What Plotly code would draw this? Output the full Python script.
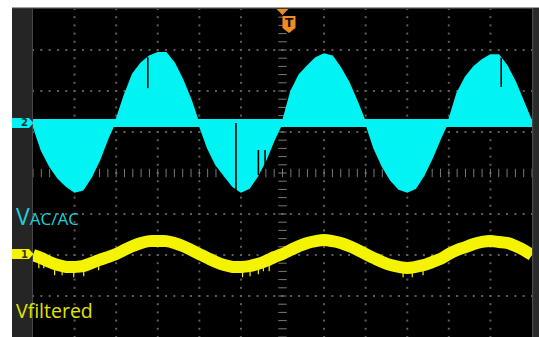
import plotly.graph_objects as go

# ---- timebase / vertical settings -------------------------------------
MS_PER_DIV = 5.0          # horizontal: 12 divisions, -30 .. 30 ms
CH2_V_PER_DIV = 100.0     # V AC/AC channel
CH2_POS_DIV = 1.22        # ground marker position (divisions above centre)
CH1_V_PER_DIV = 20.0      # filtered channel
CH1_POS_DIV = -1.976

# sample times (ms)
t_ms = [float(k) for k in range(-30, 31)]

# channel 2 (V AC/AC) chopped-sine envelope, volts
v_acac = [-5, -66, -105, -134, -154, -168, -163, -132, -90, -37,
          7, 68, 120, 146, 163, 171, 171, 146, 105, 56,
          -5, -61, -102, -129, -154, -168, -159, -129, -90, -41,
          2, 76, 117, 139, 159, 168, 163, 134, 98, 51,
          0, -61, -105, -139, -161, -168, -159, -127, -85, -37,
          7, 73, 112, 137, 154, 166, 166, 139, 100, 51, 2]

# channel 1 (V filtered), volts
v_filt = [-0.5, -2.0, -3.9, -5.4, -6.3, -6.3, -5.9, -4.4, -2.9, -1.5,
          0.0, 2.0, 3.9, 5.4, 6.3, 6.3, 6.3, 5.4, 3.9, 2.0,
          0.0, -2.0, -3.9, -5.4, -6.3, -6.3, -5.9, -4.9, -3.4, -1.5,
          0.0, 2.0, 3.9, 5.4, 6.3, 6.8, 6.3, 5.4, 3.9, 2.0,
          0.0, -2.0, -3.9, -5.4, -6.3, -6.8, -6.3, -5.4, -3.9, -2.4,
          0.0, 2.0, 3.4, 4.9, 5.9, 6.3, 5.9, 5.4, 3.9, 2.0, -0.5]

# dropouts inside the channel 2 trace: (time ms, top V, bottom V)
acac_gaps = [(-16.2, 160, 85), (-5.6, 0, -168), (-2.9, -66, -127),
             (-2.1, -66, -102), (26.3, 159, 88)]

# short glitches on the filtered trace (time ms)
filt_glitches = [-29.3, -28.7, -27.4, -26.5, -25.1, -23.9, -22.1,
                 -4.8, -3.9, -2.9, -2.3, -1.6, 14.5, 15.6, 16.9]

CYAN = "#00f4f4"
YELLOW = "#f4f400"
GRID = "#5e5e5e"
ORANGE = "#f08c1e"

W, H = 539, 337
X0, X1, YTOP = 33, 532, 9


def ch2(v):
    return v / CH2_V_PER_DIV + CH2_POS_DIV


def ch1(v):
    return v / CH1_V_PER_DIV + CH1_POS_DIV


def px(x):
    return x / W


def py(y):
    return 1 - y / H


fig = go.Figure()

# ---- graticule ---------------------------------------------------------
gx, gy = [], []
for d in range(-5, 6):
    if d == 0:
        continue
    for j in range(0, 41):
        gx.append(d * MS_PER_DIV)
        gy.append(-4 + j * 0.2)
for d in range(-3, 4):
    if d == 0:
        continue
    for j in range(0, 61):
        gx.append(-30 + j)
        gy.append(d)
fig.add_trace(go.Scatter(x=gx, y=gy, mode="markers", hoverinfo="skip",
                         marker=dict(symbol="square", size=2, color=GRID,
                                     line=dict(width=0))))

# centre crosshair with minor ticks
fig.add_trace(go.Scatter(x=[0] * 41, y=[-4 + j * 0.2 for j in range(41)],
                         mode="markers", hoverinfo="skip",
                         marker=dict(symbol="line-ew", size=6,
                                     line=dict(width=1, color="#7a7a7a"))))
fig.add_trace(go.Scatter(x=[-30 + j for j in range(61)], y=[0] * 61,
                         mode="markers", hoverinfo="skip",
                         marker=dict(symbol="line-ns", size=6,
                                     line=dict(width=1, color="#7a7a7a"))))

# ---- channel 2 ---------------------------------------------------------
fig.add_trace(go.Scatter(x=t_ms, y=[ch2(0)] * len(t_ms), mode="lines",
                         line=dict(width=8, color=CYAN), hoverinfo="skip"))
fig.add_trace(go.Scatter(x=t_ms, y=[ch2(v) for v in v_acac], mode="lines",
                         fill="tonexty", fillcolor=CYAN,
                         line=dict(width=1.5, color=CYAN), hoverinfo="skip"))
gxs, gys = [], []
for t, top, bot in acac_gaps:
    gxs += [t, t, None]
    gys += [ch2(top), ch2(bot), None]
fig.add_trace(go.Scatter(x=gxs, y=gys, mode="lines", hoverinfo="skip",
                         line=dict(width=1.6, color="black")))

# ---- channel 1 ---------------------------------------------------------
fxs, fys = [], []
for t in filt_glitches:
    i = min(range(len(t_ms)), key=lambda k: abs(t_ms[k] - t))
    fxs += [t, t, None]
    fys += [ch1(v_filt[i]), ch1(v_filt[i]) - 0.25, None]
fig.add_trace(go.Scatter(x=fxs, y=fys, mode="lines", hoverinfo="skip",
                         line=dict(width=1.2, color=YELLOW)))
fig.add_trace(go.Scatter(x=t_ms, y=[ch1(v) for v in v_filt], mode="lines",
                         line=dict(width=12, color=YELLOW, shape="spline"),
                         hoverinfo="skip"))

# ---- frame pieces ------------------------------------------------------
shapes = [
    dict(type="rect", xref="paper", yref="paper", x0=px(12), x1=px(33),
         y0=0, y1=py(8), fillcolor="#252525", line=dict(width=0), layer="below"),
    dict(type="rect", xref="paper", yref="paper", x0=px(32), x1=px(33),
         y0=0, y1=py(8), fillcolor="#474747", line=dict(width=0)),
    dict(type="rect", xref="paper", yref="paper", x0=px(12), x1=1,
         y0=py(9), y1=py(7.5), fillcolor="#3c3c3c", line=dict(width=0)),
    dict(type="rect", xref="paper", yref="paper", x0=px(532), x1=1,
         y0=0, y1=py(8), fillcolor="#2a2a2a", line=dict(width=0)),
    dict(type="rect", xref="paper", yref="paper", x0=px(532), x1=px(533.2),
         y0=0, y1=py(8), fillcolor="#4a4a4a", line=dict(width=0)),
]


def tag(yc, color):
    h = 5.0 / 41.0
    return dict(type="path", xref="paper", yref="y",
                path=(f"M {px(12)},{yc - h} L {px(29)},{yc - h} "
                      f"L {px(33.5)},{yc} L {px(29)},{yc + h} "
                      f"L {px(12)},{yc + h} Z"),
                fillcolor=color, line=dict(width=0))


shapes.append(tag(CH2_POS_DIV, CYAN))
shapes.append(tag(CH1_POS_DIV, YELLOW))

# trigger marker
shapes.append(dict(type="path", xref="paper", yref="paper",
                   path=f"M {px(276.5)},{py(9)} L {px(288.5)},{py(9)} L {px(282.5)},{py(15)} Z",
                   fillcolor=ORANGE, line=dict(width=0)))
shapes.append(dict(type="path", xref="paper", yref="paper",
                   path=(f"M {px(282.5)},{py(16)} L {px(295.5)},{py(16)} L {px(295.5)},{py(28)} "
                         f"L {px(289)},{py(33)} L {px(282.5)},{py(28)} Z"),
                   fillcolor=ORANGE, line=dict(width=0)))

annotations = [
    dict(text="<b>2</b>", x=px(19), y=CH2_POS_DIV, xref="paper", yref="y",
         showarrow=False, font=dict(size=10, color="#0a3a3a", family="DejaVu Sans")),
    dict(text="<b>1</b>", x=px(19), y=CH1_POS_DIV, xref="paper", yref="y",
         showarrow=False, font=dict(size=10, color="#3a3a00", family="DejaVu Sans")),
    dict(text="<b>T</b>", x=px(289), y=py(22.5), xref="paper", yref="paper",
         xanchor="center", yanchor="middle", showarrow=False,
         font=dict(size=12, color="#1a0d00", family="DejaVu Sans")),
    dict(text="V<span style='font-size:17px'>AC/AC</span>", x=px(14), y=py(216),
         xref="paper", yref="paper", xanchor="left", yanchor="middle",
         showarrow=False, font=dict(size=23, color="#1fcfdc", family="Open Sans")),
    dict(text="Vfiltered", x=px(14), y=py(310), xref="paper", yref="paper",
         xanchor="left", yanchor="middle", showarrow=False,
         font=dict(size=19.5, color="#e2e200", family="Open Sans")),
]

fig.update_layout(
    width=W, height=H, margin=dict(l=0, r=0, t=0, b=0),
    paper_bgcolor="white", plot_bgcolor="black", showlegend=False,
    xaxis=dict(domain=[px(X0), px(X1)], range=[-30, 30], showgrid=False,
               zeroline=False, showticklabels=False, fixedrange=True),
    yaxis=dict(domain=[0, py(YTOP)], range=[-4, 4], showgrid=False,
               zeroline=False, showticklabels=False, fixedrange=True),
    shapes=shapes, annotations=annotations,
)

fig.write_html("out.html")
